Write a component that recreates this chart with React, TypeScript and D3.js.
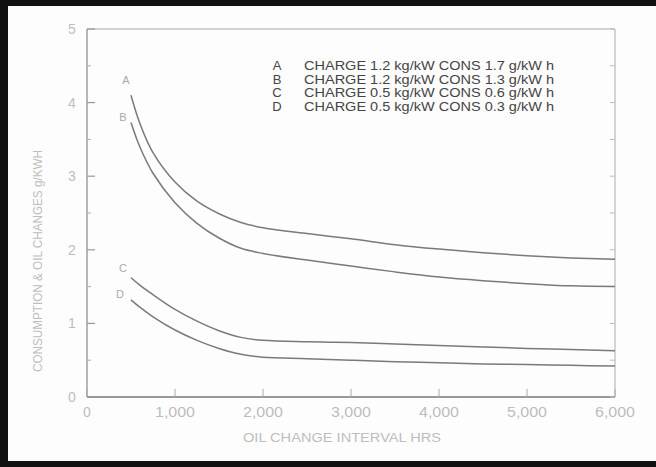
import React from "react";
import * as d3 from "d3";

const xValues = [500, 600, 750, 1000, 1250, 1500, 1750, 2000, 2500, 3000, 3500, 4000, 4500, 5000, 5500, 6000];
const seriesA = [4.1, 3.72, 3.32, 2.92, 2.66, 2.49, 2.37, 2.3, 2.22, 2.15, 2.07, 2.01, 1.96, 1.92, 1.89, 1.87];
const seriesB = [3.73, 3.4, 3.04, 2.64, 2.36, 2.16, 2.02, 1.95, 1.86, 1.78, 1.7, 1.63, 1.58, 1.54, 1.51, 1.5];
const seriesC = [1.62, 1.52, 1.39, 1.19, 1.03, 0.9, 0.81, 0.77, 0.75, 0.74, 0.72, 0.7, 0.68, 0.66, 0.645, 0.63];
const seriesD = [1.32, 1.22, 1.09, 0.91, 0.77, 0.66, 0.58, 0.54, 0.52, 0.5, 0.48, 0.465, 0.45, 0.44, 0.43, 0.42];
const seriesKeys = ["A", "B", "C", "D"];
const legendTexts = [
  "CHARGE 1.2 kg/kW CONS 1.7 g/kW h",
  "CHARGE 1.2 kg/kW CONS 1.3 g/kW h",
  "CHARGE 0.5 kg/kW CONS 0.6 g/kW h",
  "CHARGE 0.5 kg/kW CONS 0.3 g/kW h",
];
const xTicks = [0, 1000, 2000, 3000, 4000, 5000, 6000];
const yTicks = [0, 1, 2, 3, 4, 5];
const yMinorTicks = [0.5, 1.5, 2.5, 3.5, 4.5];
const xTitle = "OIL CHANGE INTERVAL HRS";
const yTitle = "CONSUMPTION & OIL CHANGES g/KWH";

const W = 656;
const H = 467;

export default function App() {
  const x = d3.scaleLinear().domain([0, 6000]).range([87, 615]);
  const y = d3.scaleLinear().domain([0, 5]).range([397, 29]);
  const all = [seriesA, seriesB, seriesC, seriesD];
  const line = d3
    .line<[number, number]>()
    .x((d) => x(d[0]))
    .y((d) => y(d[1]))
    .curve(d3.curveCatmullRom.alpha(0.5));
  const labelPos = [
    [126, 80],
    [123, 117],
    [123, 268],
    [120, 294],
  ];
  const font = "'Liberation Sans', Arial, sans-serif";
  const light = "#bdbdbd";
  return (
    <svg
      width={W}
      height={H}
      style={{ position: "absolute", left: 0, top: 0, background: "#fdfdfd" }}
      fontFamily={font}
    >
      <rect x={0} y={0} width={W} height={H} fill="#fdfdfd" />
      {/* frame */}
      <line x1={x(0)} x2={x(6000)} y1={y(5)} y2={y(5)} stroke="#aaa" strokeWidth={1.2} />
      <line x1={x(6000)} x2={x(6000)} y1={y(5)} y2={y(0)} stroke="#bbb" strokeWidth={1.2} />
      <line x1={x(0)} x2={x(0)} y1={y(5)} y2={y(0)} stroke="#888" strokeWidth={1.2} />
      <line x1={x(0)} x2={x(6000)} y1={y(0)} y2={y(0)} stroke="#777" strokeWidth={1.4} />
      {/* y ticks */}
      {yTicks.map((t) => (
        <g key={"yt" + t}>
          <line x1={x(0)} x2={x(0) + 8} y1={y(t)} y2={y(t)} stroke="#999" strokeWidth={1.2} />
          <text x={72} y={y(t) + 5} fill={light} fontSize={14} textAnchor="middle">
            {t}
          </text>
        </g>
      ))}
      {yMinorTicks.map((t) => (
        <line key={"ym" + t} x1={x(0)} x2={x(0) + 4} y1={y(t)} y2={y(t)} stroke="#aaa" strokeWidth={1} />
      ))}
      {[...yTicks, ...yMinorTicks].map((t) => (
        <line key={"yr" + t} x1={x(6000)} x2={x(6000) - 5} y1={y(t)} y2={y(t)} stroke="#bbb" strokeWidth={1} />
      ))}
      {/* x ticks */}
      {xTicks.map((t) => (
        <g key={"xt" + t}>
          <line x1={x(t)} x2={x(t)} y1={y(0)} y2={y(0) - 8} stroke="#aaa" strokeWidth={1} />
          <text
            x={x(t)}
            y={417}
            fill={light}
            fontSize={14}
            textAnchor="middle"
            textLength={t === 0 ? undefined : 40}
            lengthAdjust="spacingAndGlyphs"
          >
            {t === 0 ? "0" : d3.format(",")(t)}
          </text>
        </g>
      ))}
      {/* titles */}
      <text x={342} y={442} fill={light} fontSize={12} textAnchor="middle" textLength={198} lengthAdjust="spacingAndGlyphs">
        {xTitle}
      </text>
      <text
        transform={`translate(42,${261}) rotate(-90)`}
        fill={light}
        fontSize={12.5}
        textAnchor="middle"
        textLength={222}
        lengthAdjust="spacingAndGlyphs"
      >
        {yTitle}
      </text>
      {/* curves */}
      {all.map((s, i) => (
        <path
          key={"c" + i}
          d={line(xValues.map((v, j) => [v, s[j]] as [number, number])) || ""}
          fill="none"
          stroke="#7a7a7a"
          strokeWidth={1.5}
        />
      ))}
      {seriesKeys.map((k, i) => (
        <text key={"l" + k} x={labelPos[i][0]} y={labelPos[i][1] + 4} fill="#aaa" fontSize={11} textAnchor="middle">
          {k}
        </text>
      ))}
      {/* legend */}
      {seriesKeys.map((k, i) => (
        <g key={"lg" + k}>
          <text x={277} y={70 + i * 13.5} fill="#444" fontSize={13} textAnchor="middle">
            {k}
          </text>
          <text
            x={304}
            y={70 + i * 13.5}
            fill="#444"
            fontSize={13}
            textLength={250}
            lengthAdjust="spacingAndGlyphs"
          >
            {legendTexts[i]}
          </text>
        </g>
      ))}
      {/* black scan border */}
      <rect x={0} y={0} width={W} height={6} fill="#111" />
      <rect x={0} y={0} width={8} height={H} fill="#111" />
      <rect x={0} y={461} width={W} height={6} fill="#111" />
    </svg>
  );
}
